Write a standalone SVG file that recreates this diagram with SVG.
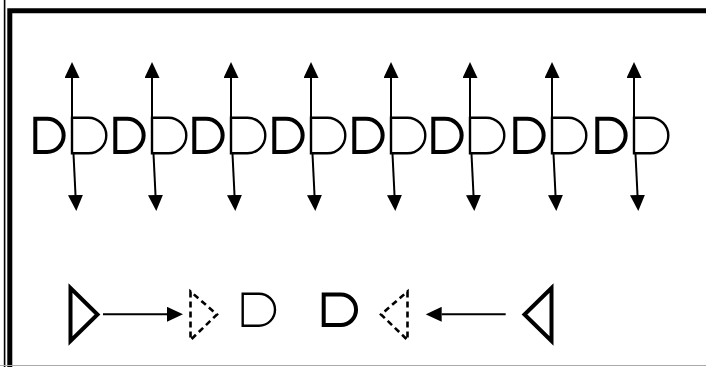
<svg xmlns="http://www.w3.org/2000/svg" width="706" height="367" viewBox="0 0 706 367">
<defs>
<style>
.thick{fill:none;stroke:#000;stroke-width:4;stroke-linejoin:miter}
.thin{fill:none;stroke:#000;stroke-width:2.4}
.dash{fill:none;stroke:#000;stroke-width:2.6;stroke-dasharray:6 4}
.edge{fill:none;stroke:#000;stroke-width:2}
</style>
<marker id="ah" viewBox="0 0 16 15" refX="0" refY="7.5" markerWidth="16" markerHeight="15" markerUnits="userSpaceOnUse" orient="auto"><path d="M0,0 L16,7.5 L0,15 Z" fill="#000"/></marker>
<path id="dThick" d="M0,0 H11.7 A16.65,16.65 0 0 1 11.7,33.3 H0 Z"/>
<path id="dThin" d="M0,0 H16.5 A17.8,17.8 0 0 1 16.5,35.6 H0 Z"/>
</defs>
<rect width="706" height="367" fill="#fff"/>
<g id="frame">
<line x1="4.6" y1="0" x2="4.6" y2="367" stroke="#000" stroke-width="1.6"/>
<path d="M720,10.8 H9.8 V367" fill="none" stroke="#000" stroke-width="5"/>
<line x1="0" y1="365.5" x2="706" y2="365.5" stroke="#aaa" stroke-width="1"/>
</g>
<g id="n1"><use href="#dThick" class="thick" x="35.3" y="118.7"/></g>
<g id="n2"><use href="#dThin" class="thin" x="72" y="117.7"/></g>
<g id="n3"><use href="#dThick" class="thick" x="115.3" y="118.7"/></g>
<g id="n4"><use href="#dThin" class="thin" x="152" y="117.7"/></g>
<g id="n5"><use href="#dThick" class="thick" x="194.3" y="118.7"/></g>
<g id="n6"><use href="#dThin" class="thin" x="231" y="117.7"/></g>
<g id="n7"><use href="#dThick" class="thick" x="274.3" y="118.7"/></g>
<g id="n8"><use href="#dThin" class="thin" x="311" y="117.7"/></g>
<g id="n9"><use href="#dThick" class="thick" x="354.3" y="118.7"/></g>
<g id="n10"><use href="#dThin" class="thin" x="391" y="117.7"/></g>
<g id="n11"><use href="#dThick" class="thick" x="433.3" y="118.7"/></g>
<g id="n12"><use href="#dThin" class="thin" x="470" y="117.7"/></g>
<g id="n13"><use href="#dThick" class="thick" x="515.3" y="118.7"/></g>
<g id="n14"><use href="#dThin" class="thin" x="552" y="117.7"/></g>
<g id="n15"><use href="#dThick" class="thick" x="597.3" y="118.7"/></g>
<g id="n16"><use href="#dThin" class="thin" x="634" y="117.7"/></g>
<g id="b1"><path class="thick" d="M70.5,288 V341 L97.5,314.5 Z"/></g>
<g id="b2"><path class="dash" d="M190.5,291.5 V340 L217,314.5 Z"/></g>
<g id="b3"><path class="thin" d="M242.7,293.7 H259 A16,16 0 0 1 259,325.7 H242.7 Z"/></g>
<g id="b4"><path class="thick" d="M323.7,294.5 H340.8 A15.25,15.25 0 0 1 340.8,325 H323.7 Z"/></g>
<g id="b5"><path class="dash" d="M407.5,291.5 V340 L381,314.5 Z"/></g>
<g id="b6"><path class="thick" d="M551.5,288 V341 L524.5,314.5 Z"/></g>
<g id="connectors" class="edge" marker-end="url(#ah)">
<line x1="72" y1="117" x2="72" y2="78"/><line x1="73.5" y1="154" x2="75.5" y2="195"/>
<line x1="152" y1="117" x2="152" y2="78"/><line x1="153.5" y1="154" x2="155.5" y2="195"/>
<line x1="231" y1="117" x2="231" y2="78"/><line x1="232.5" y1="154" x2="234.5" y2="195"/>
<line x1="311" y1="117" x2="311" y2="78"/><line x1="312.5" y1="154" x2="314.5" y2="195"/>
<line x1="391" y1="117" x2="391" y2="78"/><line x1="392.5" y1="154" x2="394.5" y2="195"/>
<line x1="470" y1="117" x2="470" y2="78"/><line x1="471.5" y1="154" x2="473.5" y2="195"/>
<line x1="552" y1="117" x2="552" y2="78"/><line x1="553.5" y1="154" x2="555.5" y2="195"/>
<line x1="634" y1="117" x2="634" y2="78"/><line x1="635.5" y1="154" x2="637.5" y2="195"/>
<line x1="103" y1="314.3" x2="167" y2="314.3"/>
<line x1="505.7" y1="314.3" x2="441.7" y2="314.3"/>
</g>
</svg>
